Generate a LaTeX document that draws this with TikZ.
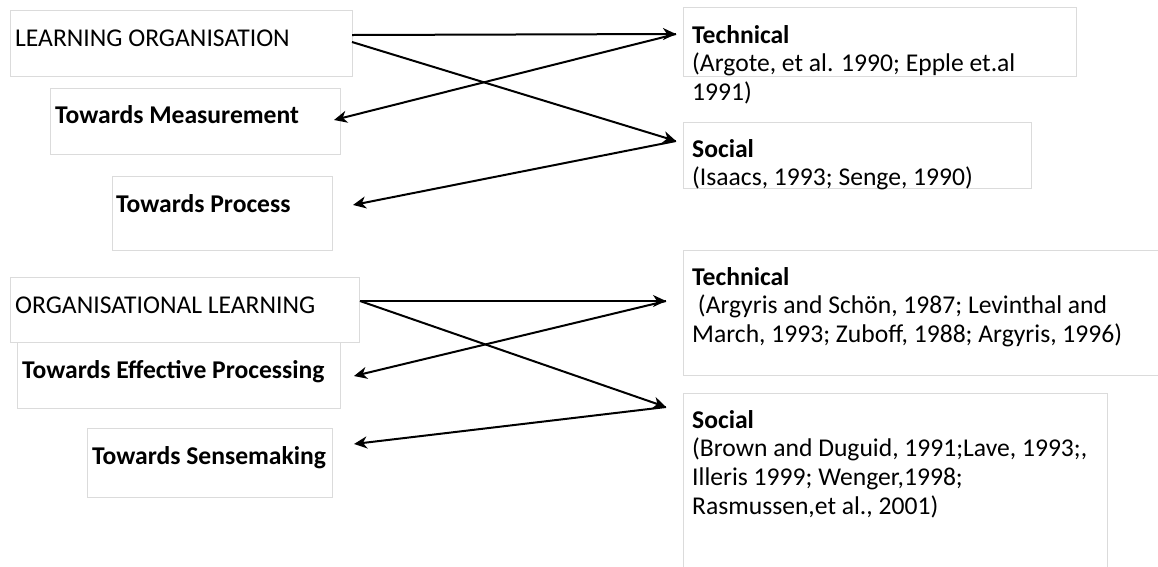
\documentclass[tikz,border=0pt]{standalone}
\usepackage{fontspec}
\setmainfont{Carlito}
\usetikzlibrary{arrows.meta}
% stacked lines whose baseline is that of the first line
\newcommand{\stackedlines}[1]{\begin{tabular}[t]{@{}l@{}}#1\end{tabular}}
\begin{document}
\begin{tikzpicture}[x=1pt,y=-1pt,
  frame/.style={draw=black!14,line width=0.9pt},
  txt/.style={anchor=base west,inner sep=0pt,
    font=\fontsize{25.6}{28.7}\selectfont},
  arr/.style={-{Stealth[length=13pt,width=12pt,inset=4pt]},line width=2pt}]
\useasboundingbox (0,0) rectangle (1158,566);

% left column: frames
\draw[frame] (10.5,10.5) rectangle (352,76);
\draw[frame] (50,88) rectangle (340,154);
\draw[frame] (112,176) rectangle (332,250);
\draw[frame] (10.5,277) rectangle (359,342);
\draw[frame] (17,342) rectangle (340,408);
\draw[frame] (87,428) rectangle (332,497);

% right column: frames
\draw[frame] (683,7) rectangle (1076,76);
\draw[frame] (683,122) rectangle (1031,188);
\draw[frame] (683,250) -- (1160,250) (683,375) -- (1160,375) (683,250) -- (683,375);
\draw[frame] (683,570) -- (683,393) -- (1107,393) -- (1107,570);

% left column: labels
\node[txt] (lo)  at (15,46)  {LEARNING ORGANISATION};
\node[txt] (tm)  at (55,123) {\bfseries Towards Measurement};
\node[txt] (tp)  at (116,212) {\bfseries Towards Process};
\node[txt] (ol)  at (15,313) {ORGANISATIONAL LEARNING};
\node[txt] (tep) at (22,378) {\bfseries Towards Effective Processing};
\node[txt] (ts)  at (92,464) {\bfseries Towards Sensemaking};

% right column: labels
\node[txt] (tA) at (692,43) {\stackedlines{\textbf{Technical}\\(Argote, et al. 1990; Epple et.al\\1991)}};
\node[txt] (sA) at (692,157) {\stackedlines{\textbf{Social}\\(Isaacs, 1993; Senge, 1990)}};
\node[txt] (tB) at (692,285) {\stackedlines{\textbf{Technical}\\\ (Argyris and Schön, 1987; Levinthal and\\March, 1993; Zuboff, 1988; Argyris, 1996)}};
\node[txt] (sB) at (692,428) {\stackedlines{\textbf{Social}\\(Brown and Duguid, 1991;Lave, 1993;,\\Illeris 1999; Wenger,1998;\\Rasmussen,et al., 2001)}};

% connector end points
\coordinate (loA) at (352,35);
\coordinate (loB) at (352,42);
\coordinate (tAin) at (676,34);
\coordinate (sAin) at (676,141);
\coordinate (tmIn) at (334,120);
\coordinate (tpIn) at (353,205);
\coordinate (olA) at (360,301);
\coordinate (tBin) at (666,301);
\coordinate (sBin) at (666,407);
\coordinate (tepIn) at (354,376);
\coordinate (tsIn) at (354,444);

% learning organisation
\draw[arr] (loA) -- (tAin);
\draw[arr] (loB) -- (sAin);
\draw[arr] (tAin) -- (tmIn);
\draw[arr] (sAin) -- (tpIn);

% organisational learning
\draw[arr] (olA) -- (tBin);
\draw[arr] (olA) -- (sBin);
\draw[arr] (tBin) -- (tepIn);
\draw[arr] (sBin) -- (tsIn);
\end{tikzpicture}
\end{document}
